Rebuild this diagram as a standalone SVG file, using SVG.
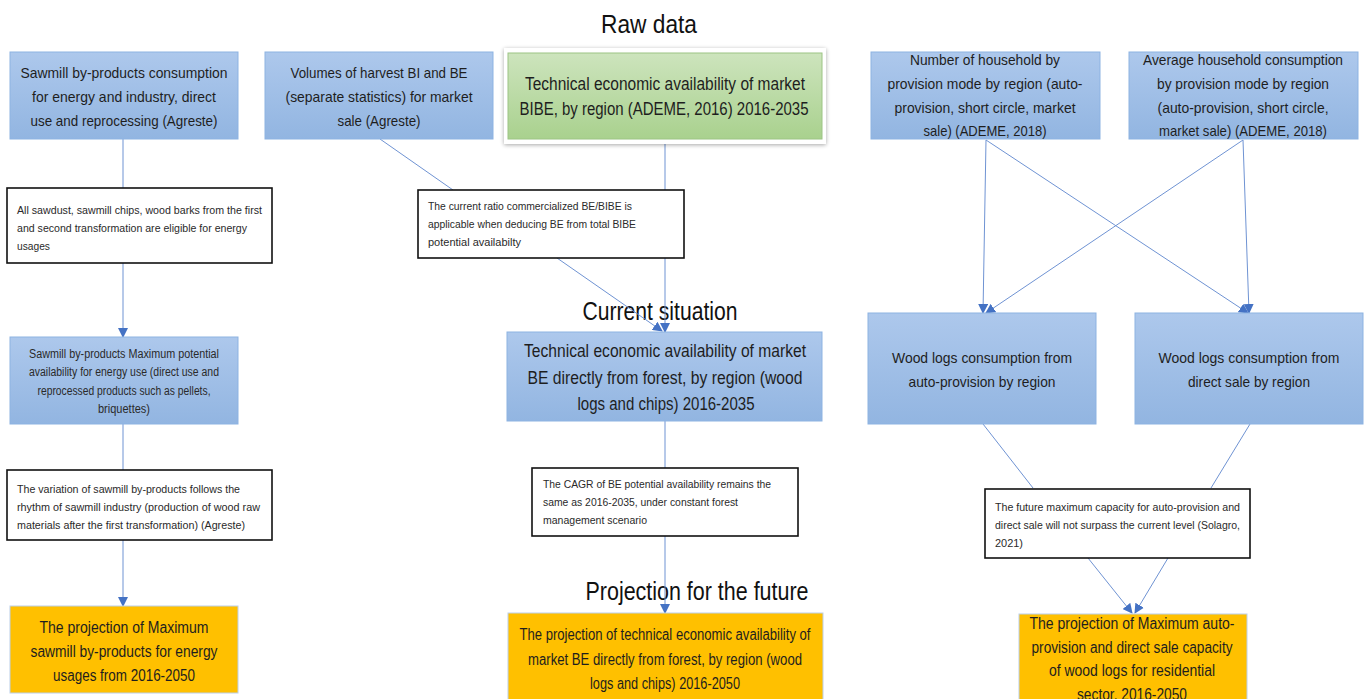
<svg xmlns="http://www.w3.org/2000/svg" width="1366" height="699" viewBox="0 0 1366 699">
<defs>
<linearGradient id="gBlue" x1="0" y1="0" x2="0" y2="1"><stop offset="0" stop-color="#adc8ec"/><stop offset="1" stop-color="#92b5e1"/></linearGradient>
<linearGradient id="gGreen" x1="0" y1="0" x2="0" y2="1"><stop offset="0" stop-color="#cde4bd"/><stop offset="1" stop-color="#a9d18e"/></linearGradient>
<filter id="glow" x="-10%" y="-20%" width="120%" height="140%"><feGaussianBlur in="SourceAlpha" stdDeviation="2"/><feOffset dy="1"/><feComponentTransfer><feFuncA type="linear" slope="0.35"/></feComponentTransfer><feMerge><feMergeNode/><feMergeNode in="SourceGraphic"/></feMerge></filter>
<marker id="arr" viewBox="0 0 10 10" refX="9" refY="5" markerWidth="10" markerHeight="10" markerUnits="userSpaceOnUse" orient="auto"><path d="M0,0 L10,5 L0,10 z" fill="#4472c4"/></marker>
</defs>
<style>
text{font-family:"Liberation Sans",Arial,sans-serif;fill:#1e1e1e}
.blue{fill:url(#gBlue);stroke:#8db3e2;stroke-width:1}
.orange{fill:#ffc000;stroke:#bcd0ea;stroke-width:1}
.note{fill:#fff;stroke:#111;stroke-width:1.6}
.t15{font-size:15px}
.t18{font-size:17.5px}
.t16{font-size:16px}
.t12{font-size:12px;fill:#2a2a2a}
.t11{font-size:11px;fill:#2a2a2a}
.title{font-size:25px;fill:#111}
.c{text-anchor:middle}
.ln{stroke:#6f93d3;stroke-width:1;fill:none}
.la{stroke:#6f93d3;stroke-width:1;fill:none;marker-end:url(#arr)}
</style>
<rect width="1366" height="699" fill="#fff"/>

<g id="titles">
<text class="title c" x="649" y="33" textLength="96" lengthAdjust="spacingAndGlyphs">Raw data</text>
<text class="title c" x="660" y="320" textLength="155" lengthAdjust="spacingAndGlyphs">Current situation</text>
<text class="title c" x="697" y="600" textLength="223" lengthAdjust="spacingAndGlyphs">Projection for the future</text>
</g>

<g id="connectors">
<line class="ln" x1="123" y1="139" x2="123" y2="188"/>
<line class="la" x1="123" y1="263" x2="123" y2="337"/>
<line class="ln" x1="123" y1="424" x2="123" y2="470"/>
<line class="la" x1="123" y1="540" x2="123" y2="606"/>
<line class="ln" x1="380" y1="139" x2="453" y2="190"/>
<line class="la" x1="665" y1="144" x2="665" y2="332"/>
<line class="la" x1="557" y1="258" x2="662" y2="331"/>
<line class="ln" x1="665" y1="421" x2="665" y2="468"/>
<line class="la" x1="665" y1="536" x2="665" y2="613"/>
<line class="la" x1="986" y1="140" x2="983" y2="313"/>
<line class="la" x1="986" y1="140" x2="1248" y2="313"/>
<line class="la" x1="1243" y1="140" x2="986" y2="313"/>
<line class="la" x1="1243" y1="140" x2="1249" y2="313"/>
<line class="ln" x1="983" y1="424" x2="1033" y2="488"/>
<line class="ln" x1="1250" y1="424" x2="1211" y2="488"/>
<line class="la" x1="1088" y1="558" x2="1132" y2="613"/>
<line class="la" x1="1168" y1="558" x2="1135" y2="613"/>
</g>

<g id="n-sawmill-consumption">
<rect class="blue" x="10" y="52" width="228" height="87"/>
<text class="t15 c" x="124" y="78" textLength="207" lengthAdjust="spacingAndGlyphs">Sawmill by-products consumption</text>
<text class="t15 c" x="124" y="102" textLength="184" lengthAdjust="spacingAndGlyphs">for energy and industry, direct</text>
<text class="t15 c" x="124" y="126" textLength="187" lengthAdjust="spacingAndGlyphs">use and reprocessing (Agreste)</text>
</g>

<g id="n-note-sawdust">
<rect class="note" x="7" y="188" width="265" height="75"/>
<text class="t11" x="17" y="214" textLength="245" lengthAdjust="spacingAndGlyphs">All sawdust, sawmill chips, wood barks from the first</text>
<text class="t11" x="17" y="232" textLength="230" lengthAdjust="spacingAndGlyphs">and second transformation are eligible for energy</text>
<text class="t11" x="17" y="250" textLength="33" lengthAdjust="spacingAndGlyphs">usages</text>
</g>

<g id="n-sawmill-max">
<rect class="blue" x="10" y="337" width="228" height="87"/>
<text class="t12 c" x="124" y="358" textLength="190" lengthAdjust="spacingAndGlyphs">Sawmill by-products Maximum potential</text>
<text class="t12 c" x="124" y="376" textLength="190" lengthAdjust="spacingAndGlyphs">availability for energy use (direct use and</text>
<text class="t12 c" x="124" y="395" textLength="173" lengthAdjust="spacingAndGlyphs">reprocessed products such as pellets,</text>
<text class="t12 c" x="124" y="413" textLength="52" lengthAdjust="spacingAndGlyphs">briquettes)</text>
</g>

<g id="n-note-variation">
<rect class="note" x="7" y="470" width="265" height="70"/>
<text class="t11" x="17" y="493" textLength="223" lengthAdjust="spacingAndGlyphs">The variation of sawmill by-products follows the</text>
<text class="t11" x="17" y="511" textLength="243" lengthAdjust="spacingAndGlyphs">rhythm of sawmill industry (production of wood raw</text>
<text class="t11" x="17" y="529" textLength="228" lengthAdjust="spacingAndGlyphs">materials after the first transformation) (Agreste)</text>
</g>

<g id="n-proj-sawmill">
<rect class="orange" x="10" y="606" width="228" height="87"/>
<text class="t16 c" x="124" y="633" textLength="169" lengthAdjust="spacingAndGlyphs">The projection of Maximum</text>
<text class="t16 c" x="124" y="657" textLength="187" lengthAdjust="spacingAndGlyphs">sawmill by-products for energy</text>
<text class="t16 c" x="124" y="681" textLength="142" lengthAdjust="spacingAndGlyphs">usages from 2016-2050</text>
</g>

<g id="n-volumes">
<rect class="blue" x="265" y="52" width="228" height="87"/>
<text class="t15 c" x="379" y="78" textLength="177" lengthAdjust="spacingAndGlyphs">Volumes of harvest BI and BE</text>
<text class="t15 c" x="379" y="102" textLength="187" lengthAdjust="spacingAndGlyphs">(separate statistics) for market</text>
<text class="t15 c" x="379" y="126" textLength="83" lengthAdjust="spacingAndGlyphs">sale (Agreste)</text>
</g>

<g id="n-bibe">
<rect x="504" y="48" width="322" height="96" fill="#fff" filter="url(#glow)"/>
<rect x="508" y="53" width="314" height="86" fill="url(#gGreen)" stroke="#9cc484" stroke-width="1"/>
<text class="t18 c" x="665" y="90" textLength="280" lengthAdjust="spacingAndGlyphs">Technical economic availability of market</text>
<text class="t18 c" x="664" y="115" textLength="289" lengthAdjust="spacingAndGlyphs">BIBE, by region (ADEME, 2016) 2016-2035</text>
</g>

<g id="n-note-ratio">
<rect class="note" x="418" y="190" width="266" height="68"/>
<text class="t11" x="428" y="210" textLength="204" lengthAdjust="spacingAndGlyphs">The current ratio commercialized BE/BIBE is</text>
<text class="t11" x="428" y="228" textLength="208" lengthAdjust="spacingAndGlyphs">applicable when deducing BE from total BIBE</text>
<text class="t11" x="428" y="246" textLength="93" lengthAdjust="spacingAndGlyphs">potential availabilty</text>
</g>

<g id="n-be-current">
<rect class="blue" x="507" y="332" width="315" height="89"/>
<text class="t18 c" x="665" y="357" textLength="282" lengthAdjust="spacingAndGlyphs">Technical economic availability of market</text>
<text class="t18 c" x="665" y="384" textLength="275" lengthAdjust="spacingAndGlyphs">BE directly from forest, by region (wood</text>
<text class="t18 c" x="666" y="410" textLength="177" lengthAdjust="spacingAndGlyphs">logs and chips) 2016-2035</text>
</g>

<g id="n-note-cagr">
<rect class="note" x="532" y="468" width="266" height="68"/>
<text class="t11" x="543" y="488" textLength="228" lengthAdjust="spacingAndGlyphs">The CAGR of BE potential availability remains the</text>
<text class="t11" x="543" y="506" textLength="195" lengthAdjust="spacingAndGlyphs">same as 2016-2035, under constant forest</text>
<text class="t11" x="543" y="524" textLength="104" lengthAdjust="spacingAndGlyphs">management scenario</text>
</g>

<g id="n-proj-be">
<rect class="orange" x="508" y="613" width="315" height="90"/>
<text class="t16 c" x="665" y="640" textLength="291" lengthAdjust="spacingAndGlyphs">The projection of technical economic availability of</text>
<text class="t16 c" x="665" y="665" textLength="274" lengthAdjust="spacingAndGlyphs">market BE directly from forest, by region (wood</text>
<text class="t16 c" x="665" y="689" textLength="150" lengthAdjust="spacingAndGlyphs">logs and chips) 2016-2050</text>
</g>

<g id="n-households">
<rect class="blue" x="871" y="52" width="229" height="87"/>
<text class="t15 c" x="985" y="65" textLength="150" lengthAdjust="spacingAndGlyphs">Number of household by</text>
<text class="t15 c" x="985" y="89" textLength="195" lengthAdjust="spacingAndGlyphs">provision mode by region (auto-</text>
<text class="t15 c" x="985" y="113" textLength="181" lengthAdjust="spacingAndGlyphs">provision, short circle, market</text>
<text class="t15 c" x="985" y="136" textLength="123" lengthAdjust="spacingAndGlyphs">sale) (ADEME, 2018)</text>
</g>

<g id="n-avg-consumption">
<rect class="blue" x="1129" y="52" width="229" height="87"/>
<text class="t15 c" x="1243" y="65" textLength="200" lengthAdjust="spacingAndGlyphs">Average household consumption</text>
<text class="t15 c" x="1243" y="89" textLength="172" lengthAdjust="spacingAndGlyphs">by provision mode by region</text>
<text class="t15 c" x="1243" y="113" textLength="171" lengthAdjust="spacingAndGlyphs">(auto-provision, short circle,</text>
<text class="t15 c" x="1243" y="136" textLength="168" lengthAdjust="spacingAndGlyphs">market sale) (ADEME, 2018)</text>
</g>

<g id="n-auto-provision">
<rect class="blue" x="868" y="313" width="228" height="111"/>
<text class="t15 c" x="982" y="363" textLength="180" lengthAdjust="spacingAndGlyphs">Wood logs consumption from</text>
<text class="t15 c" x="982" y="387" textLength="147" lengthAdjust="spacingAndGlyphs">auto-provision by region</text>
</g>

<g id="n-direct-sale">
<rect class="blue" x="1135" y="313" width="228" height="111"/>
<text class="t15 c" x="1249" y="363" textLength="181" lengthAdjust="spacingAndGlyphs">Wood logs consumption from</text>
<text class="t15 c" x="1249" y="387" textLength="122" lengthAdjust="spacingAndGlyphs">direct sale by region</text>
</g>

<g id="n-note-future">
<rect class="note" x="985" y="489" width="265" height="69"/>
<text class="t11" x="995" y="511" textLength="245" lengthAdjust="spacingAndGlyphs">The future maximum capacity for auto-provision and</text>
<text class="t11" x="995" y="529" textLength="245" lengthAdjust="spacingAndGlyphs">direct sale will not surpass the current level (Solagro,</text>
<text class="t11" x="995" y="547" textLength="28" lengthAdjust="spacingAndGlyphs">2021)</text>
</g>

<g id="n-proj-residential">
<rect class="orange" x="1019" y="614" width="228" height="90"/>
<text class="t16 c" x="1132" y="629" textLength="205" lengthAdjust="spacingAndGlyphs">The projection of Maximum auto-</text>
<text class="t16 c" x="1132" y="653" textLength="201" lengthAdjust="spacingAndGlyphs">provision and direct sale capacity</text>
<text class="t16 c" x="1132" y="676" textLength="166" lengthAdjust="spacingAndGlyphs">of wood logs for residential</text>
<text class="t16 c" x="1132" y="700" textLength="110" lengthAdjust="spacingAndGlyphs">sector, 2016-2050</text>
</g>
</svg>
